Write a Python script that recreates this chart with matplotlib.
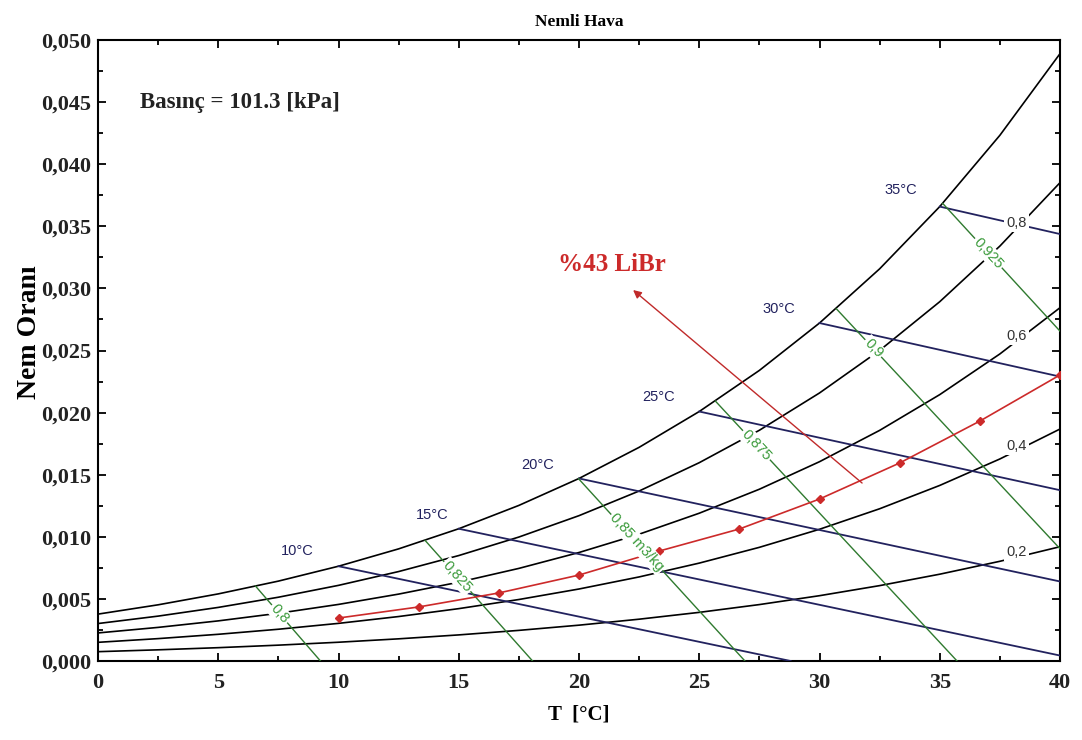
import numpy as np
import matplotlib
matplotlib.use('Agg')
import matplotlib.pyplot as plt
from matplotlib.ticker import MultipleLocator, FuncFormatter

# ---------------- data ----------------
T_grid = [0, 2.5, 5, 7.5, 10, 12.5, 15, 17.5, 20, 22.5, 25, 27.5, 30, 32.5, 35, 37.5, 40]
w_rh100 = [0.003775, 0.004524, 0.005403, 0.006432, 0.007631, 0.009028, 0.010649, 0.012527,
           0.014697, 0.017203, 0.020087, 0.023397, 0.027211, 0.031575, 0.036587, 0.042327, 0.048899]
w_rh80 = [0.003016, 0.003614, 0.004315, 0.005135, 0.006090, 0.007202, 0.008490, 0.009981,
          0.011702, 0.013686, 0.015967, 0.018578, 0.021580, 0.025006, 0.028929, 0.033407, 0.038513]
w_rh60 = [0.002259, 0.002706, 0.003230, 0.003843, 0.004556, 0.005386, 0.006346, 0.007456,
          0.008736, 0.010209, 0.011899, 0.013830, 0.016046, 0.018568, 0.021448, 0.024723, 0.028445]
w_rh40 = [0.001504, 0.001802, 0.002150, 0.002557, 0.003030, 0.003580, 0.004216, 0.004951,
          0.005797, 0.006769, 0.007882, 0.009152, 0.010606, 0.012257, 0.014136, 0.016267, 0.018678]
w_rh20 = [0.000751, 0.000900, 0.001073, 0.001276, 0.001511, 0.001785, 0.002101, 0.002466,
          0.002885, 0.003366, 0.003916, 0.004543, 0.005258, 0.006069, 0.006989, 0.008028, 0.009201]
rh_labels = ['0,8', '0,6', '0,4', '0,2']

wb_labels = ['10°C', '15°C', '20°C', '25°C', '30°C', '35°C']
wb_T_start = [10, 15, 20, 25, 30, 35]
wb_w_start = [0.007631, 0.010649, 0.014697, 0.020087, 0.027211, 0.036587]
wb_T_end = [28.8, 40, 40, 40, 40, 40]
wb_w_end = [0.0, 0.00044, 0.006403, 0.013753, 0.022898, 0.034376]

vol_labels = ['0,8', '0,825', '0,85 m3/kg', '0,875', '0,9', '0,925']
vol_T_start = [6.55, 13.6, 19.98, 25.67, 30.7, 35.12]
vol_w_start = [0.00603, 0.00971, 0.01468, 0.02093, 0.02836, 0.03685]
vol_T_end = [9.25, 18.07, 26.9, 35.72, 40, 40]
vol_w_end = [0.0, 0.0, 0.0, 0.0, 0.00904, 0.02656]

libr_T = [10, 13.33, 16.67, 20, 23.33, 26.67, 30, 33.33, 36.67, 40]
libr_w = [0.00346, 0.00435, 0.00548, 0.00692, 0.00885, 0.01063, 0.01304, 0.01594, 0.01932, 0.02303]

x_ticks = [0, 5, 10, 15, 20, 25, 30, 35, 40]
y_ticks = [0.000, 0.005, 0.010, 0.015, 0.020, 0.025, 0.030, 0.035, 0.040, 0.045, 0.050]

# ---------------- styling ----------------
SERIF = ['Liberation Serif', 'DejaVu Serif']
SANS = ['Liberation Sans', 'DejaVu Sans']
NAVY = '#22225e'
GREEN_LINE = '#2f7a2f'
GREEN_TXT = '#3a9a3a'
RED = '#cc2a2a'

fig = plt.figure(figsize=(10.82, 7.40), dpi=100)
ax = fig.add_axes([98 / 1082, 1 - 661 / 740, (1060 - 98) / 1082, (661 - 40) / 740])
ax.set_xlim(0, 40)
ax.set_ylim(0, 0.05)

# relative humidity curves
for w in [w_rh100, w_rh80, w_rh60, w_rh40, w_rh20]:
    ax.plot(T_grid, w, color='black', lw=1.2, zorder=2)

# RH labels on curves
for lab, w in zip(rh_labels, [w_rh80, w_rh60, w_rh40, w_rh20]):
    ty = np.interp(38.2, T_grid, w)
    ax.text(38.2, ty + 0.0004, lab, ha='center', va='center', fontsize=10.5,
            family=SANS, color='#333333', zorder=6,
            bbox=dict(facecolor='white', edgecolor='none', pad=1.5))

# wet-bulb lines
wb_pos = [(8.3, 0.00886), (13.9, 0.01176), (18.3, 0.01578), (23.3, 0.02126),
          (28.3, 0.02834), (33.4, 0.03792)]
for i in range(len(wb_labels)):
    ax.plot([wb_T_start[i], wb_T_end[i]], [wb_w_start[i], wb_w_end[i]],
            color=NAVY, lw=1.3, zorder=3)
    ax.text(wb_pos[i][0], wb_pos[i][1], wb_labels[i], ha='center', va='center',
            fontsize=10.5, family=SANS, color=NAVY, zorder=6)

# specific volume lines
vol_frac = [0.37, 0.30, 0.35, 0.17, 0.165, 0.39]
for i in range(len(vol_labels)):
    x0, y0, x1, y1 = vol_T_start[i], vol_w_start[i], vol_T_end[i], vol_w_end[i]
    ax.plot([x0, x1], [y0, y1], color=GREEN_LINE, lw=1.0, zorder=3)
    p0 = ax.transData.transform((x0, y0))
    p1 = ax.transData.transform((x1, y1))
    ang = np.degrees(np.arctan2(p1[1] - p0[1], p1[0] - p0[0]))
    f = vol_frac[i]
    tx, ty = x0 + f * (x1 - x0), y0 + f * (y1 - y0)
    ax.text(tx, ty, vol_labels[i], rotation=ang, rotation_mode='anchor',
            ha='center', va='center', fontsize=10.5, family=SANS, color=GREEN_TXT,
            zorder=6, bbox=dict(facecolor='white', edgecolor='none', pad=1.0))

# LiBr equilibrium curve
ax.plot(libr_T, libr_w, color=RED, lw=1.2, marker='D', markersize=4,
        markerfacecolor=RED, markeredgecolor=RED, zorder=4)

# arrow and label
ax.annotate('', xy=(22.25, 0.02987), xytext=(31.77, 0.01433),
            arrowprops=dict(arrowstyle='-|>', color='#c02a2a', lw=1.0,
                            mutation_scale=12, shrinkA=0, shrinkB=0), zorder=5)
ax.text(21.35, 0.0319, '%43 LiBr', ha='center', va='center', fontsize=18,
        fontweight='bold', family=SERIF, color=RED, zorder=6)

ax.text(1.75, 0.0450, 'Basınç = 101.3 [kPa]', ha='left', va='center', fontsize=16.5,
        fontweight='bold', family=SERIF, color='#222222')

# axes cosmetics
ax.set_xticks(x_ticks)
ax.set_yticks(y_ticks)
ax.xaxis.set_minor_locator(MultipleLocator(2.5))
ax.yaxis.set_minor_locator(MultipleLocator(0.0025))
ax.yaxis.set_major_formatter(FuncFormatter(lambda v, p: f'{v:.3f}'.replace('.', ',')))
ax.xaxis.set_major_formatter(FuncFormatter(lambda v, p: f'{v:.0f}'))
ax.tick_params(which='both', direction='in', top=True, right=True, width=1.3)
ax.tick_params(which='major', length=6)
ax.tick_params(which='minor', length=3.5)
ax.tick_params(axis='x', pad=9)
ax.tick_params(axis='y', pad=5)
for lab in ax.get_xticklabels() + ax.get_yticklabels():
    lab.set_family(SERIF)
    lab.set_fontweight('bold')
    lab.set_fontsize(16)
    lab.set_color('#222222')
for s in ax.spines.values():
    s.set_linewidth(1.5)

ax.set_xlabel('T  [°C]', family=SERIF, fontweight='bold', fontsize=15, labelpad=8)
ax.set_ylabel('Nem Oranı', family=SERIF, fontweight='bold', fontsize=20)
ax.yaxis.set_label_coords(-0.058, 0.53)
ax.set_title('Nemli Hava', family=SERIF, fontweight='bold', fontsize=12.5, pad=10)

fig.savefig('out.png', dpi=100, facecolor='white')
